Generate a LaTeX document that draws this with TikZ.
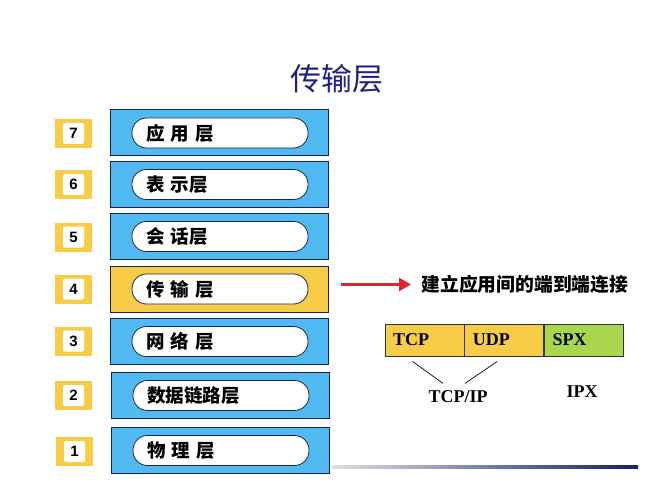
\documentclass[tikz,border=0pt]{standalone}
\usepackage{fontspec}
\setmainfont{Liberation Serif}
\newfontfamily\cjk{Noto Sans CJK SC}
\newfontfamily\numfont{Liberation Sans}
\usepackage{tikz}
\usetikzlibrary{
  positioning,
  arrows.meta
}
\definecolor{layerblue}{HTML}{52BAF2}
\definecolor{layeryellow}{HTML}{F7CC47}
\definecolor{spxgreen}{HTML}{A9D64E}
\definecolor{navyline}{HTML}{1B2452}
\definecolor{titlenavy}{HTML}{1F2183}
\definecolor{arrowred}{HTML}{E8202A}
\newcommand{\pillfont}{%
  \cjk\bfseries\fontsize{18.5}{18.5}\selectfont\spaceskip=8.5pt\relax}

\begin{document}
\begin{tikzpicture}[x=1pt,y=-1pt,>=Latex]
  \tikzset{
    layer/.style={
      draw=navyline,line width=1pt,minimum width=218pt,minimum height=46pt,inner sep=0pt
    },
    pill/.style={
      draw=navyline,fill=white,line width=0.8pt,rounded corners=14.5pt,
      minimum height=30pt,text width=148pt,inner xsep=14pt,inner ysep=0pt,align=left,
      font=\pillfont
    },
    numbox/.style={fill=layeryellow,minimum width=37pt,minimum height=29pt,inner sep=0pt},
    numtag/.style={
      fill=white,rounded corners=2pt,minimum size=21pt,inner sep=0pt,
      font=\numfont\bfseries\fontsize{15}{15}\selectfont
    },
    cell/.style={
      draw=black!80,line width=0.8pt,minimum width=79pt,minimum height=32pt,
      text width=63pt,inner xsep=8pt,align=left,font=\bfseries\fontsize{18}{18}\selectfont
    },
    arrowred/.style={
      draw=arrowred,line width=2.5pt,-{Triangle[length=12pt,width=13pt]},shorten >=7pt
    },
  }
  \useasboundingbox (0,0) rectangle (667,500);

  \node[font=\cjk\fontsize{31}{31}\selectfont,text=titlenavy] (title) at (337,79) {传输层};

  \node[numbox] (n7) at (73.5,133.5) {};
  \node[numtag] (t7) at (n7) {7};
  \node[numbox] (n6) at (73.5,184.5) {};
  \node[numtag] (t6) at (n6) {6};
  \node[numbox] (n5) at (73.5,237) {};
  \node[numtag] (t5) at (n5) {5};
  \node[numbox] (n4) at (73.5,289) {};
  \node[numtag] (t4) at (n4) {4};
  \node[numbox] (n3) at (73.5,341) {};
  \node[numtag] (t3) at (n3) {3};
  \node[numbox] (n2) at (73.5,395.5) {};
  \node[numtag] (t2) at (n2) {2};
  \node[numbox] (n1) at (74.5,451.5) {};
  \node[numtag] (t1) at (n1) {1};

  \node[layer,fill=layerblue] (l7) at (219.5,133) {};
  \node[pill] (p7) at (220,133) {应 用 层};
  \node[layer,fill=layerblue] (l6) at (219.5,184.5) {};
  \node[pill] (p6) at (220,184.5) {表 示层};
  \node[layer,fill=layerblue] (l5) at (219.5,236.5) {};
  \node[pill] (p5) at (220,236.5) {会 话层};
  \node[layer,fill=layeryellow] (l4) at (219.5,289) {};
  \node[pill] (p4) at (220,289) {传 输 层};
  \node[layer,fill=layerblue] (l3) at (219.5,341.5) {};
  \node[pill] (p3) at (220,341.5) {网 络 层};
  \node[layer,fill=layerblue] (l2) at (220.5,395.5) {};
  \node[pill] (p2) at (221,395.5) {数据链路层};
  \node[layer,fill=layerblue] (l1) at (220,450.5) {};
  \node[pill] (p1) at (221,450.5) {物 理 层};

  \node[anchor=west,font=\cjk\bfseries\fontsize{18.8}{18.8}\selectfont] (goal) at (418,284.5)
    {建立应用间的端到端连接};
  \coordinate (arrowtail) at ([xshift=12pt]l4.east);
  \draw[arrowred] (arrowtail |- goal.west) -- (goal.west);

  \node[cell,fill=layeryellow] (tcp) at (424.5,340) {TCP};
  \node[cell,fill=layeryellow,right=0pt of tcp] (udp) {UDP};
  \node[cell,fill=spxgreen,right=0pt of udp] (spx) {SPX};

  \node[font=\bfseries\fontsize{18}{18}\selectfont] (tcpip) at (458,397) {TCP/IP};
  \node[font=\bfseries\fontsize{18}{18}\selectfont] (ipx) at (582,392) {IPX};
  \draw[line width=0.7pt] ([shift={(-12,5)}]tcp.south) -- ([shift={(-15,-4)}]tcpip.north);
  \draw[line width=0.7pt] ([shift={(-7,5)}]udp.south) -- ([shift={(7,-4)}]tcpip.north);

  \shade[left color=gray!25,right color=navyline!80!blue] (332,465.5) rectangle (638,468);
\end{tikzpicture}
\end{document}
